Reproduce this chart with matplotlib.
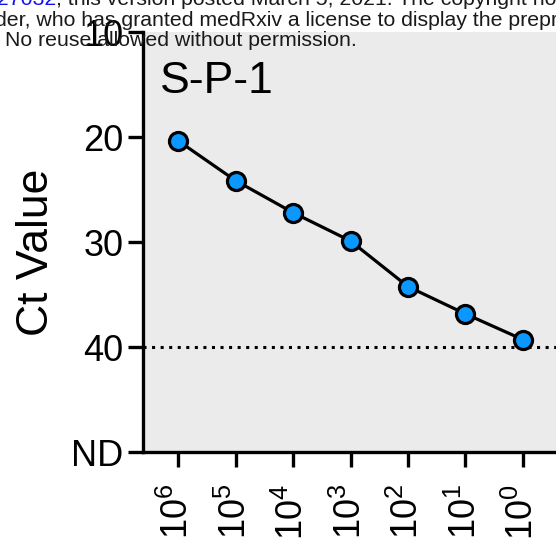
import matplotlib
matplotlib.use("Agg")
import matplotlib.pyplot as plt

plt.rcParams["font.family"] = ["Liberation Sans", "DejaVu Sans"]
plt.rcParams["mathtext.fontset"] = "custom"
plt.rcParams["mathtext.rm"] = "Liberation Sans"
plt.rcParams["mathtext.default"] = "regular"

# Dilution series (copies) and measured Ct values
dilution_exp = [6, 5, 4, 3, 2, 1, 0]
ct_values = [20.35, 24.15, 27.2, 29.9, 34.25, 36.85, 39.3]
y_ticks = [10, 20, 30, 40, 50]
y_tick_labels = ["10", "20", "30", "40", "ND"]
x_tick_labels = [r"$\mathregular{10^{%d}}$" % e for e in dilution_exp]
cutoff_ct = 40
title = "S-P-1"

W, H = 556, 541
fig = plt.figure(figsize=(W / 100, H / 100), dpi=100)

ax_left, ax_right, ax_top, ax_bottom = 143, 556, 32, 452
ax = fig.add_axes([ax_left / W, 1 - ax_bottom / H,
                   (ax_right - ax_left) / W, (ax_bottom - ax_top) / H])
ax.set_facecolor("#EBEBEB")

xs = list(range(len(ct_values)))
px_per_unit = 57.5
x0_px = 178
ax.set_xlim(-(x0_px - ax_left) / px_per_unit, (ax_right - x0_px) / px_per_unit)
ax.set_ylim(50, 10)

ax.axhline(cutoff_ct, color="black", lw=2.2, linestyle=(0, (1, 1.8)), zorder=2)
ax.plot(xs, ct_values, color="black", lw=2.3, marker="o", ms=13,
        mfc="#0A97FF", mec="black", mew=2.3, zorder=3, clip_on=False)

for s in ["top", "right"]:
    ax.spines[s].set_visible(False)
for s in ["left", "bottom"]:
    ax.spines[s].set_linewidth(2.4)

ax.set_yticks(y_ticks)
ax.set_yticklabels(y_tick_labels)
ax.set_xticks(xs)
ax.set_xticklabels(x_tick_labels, rotation=90, va="top", ha="center")
ax.tick_params(axis="y", length=11, width=2.4, labelsize=26, pad=3)
ax.tick_params(axis="x", length=11, width=2.4, labelsize=26, pad=12)

fig.text(37 / W, 1 - 252 / H, "Ct Value", rotation=90, fontsize=32,
         ha="center", va="center")
fig.text(160 / W, 1 - 93 / H, title, fontsize=32, ha="left", va="baseline")

# preprint notice overlaid at the top of the page
note_size = 15.3
note_kw = dict(fontsize=note_size, va="baseline", color="#1a1a1a")
fig.text(56 / W, 1 - 5 / H, ".27032", ha="right", color="#1010ee",
         fontsize=note_size, va="baseline")
fig.text(56 / W, 1 - 5 / H,
         "; this version posted March 5, 2021. The copyright holder for",
         ha="left", **note_kw)
fig.text(-5 / W, 1 - 26.5 / H,
         "der, who has granted medRxiv a license to display the preprint in",
         ha="left", **note_kw)
fig.text(5 / W, 1 - 46 / H, "No reuse allowed without permission.",
         ha="left", **note_kw)

fig.savefig("out.png", dpi=100)
